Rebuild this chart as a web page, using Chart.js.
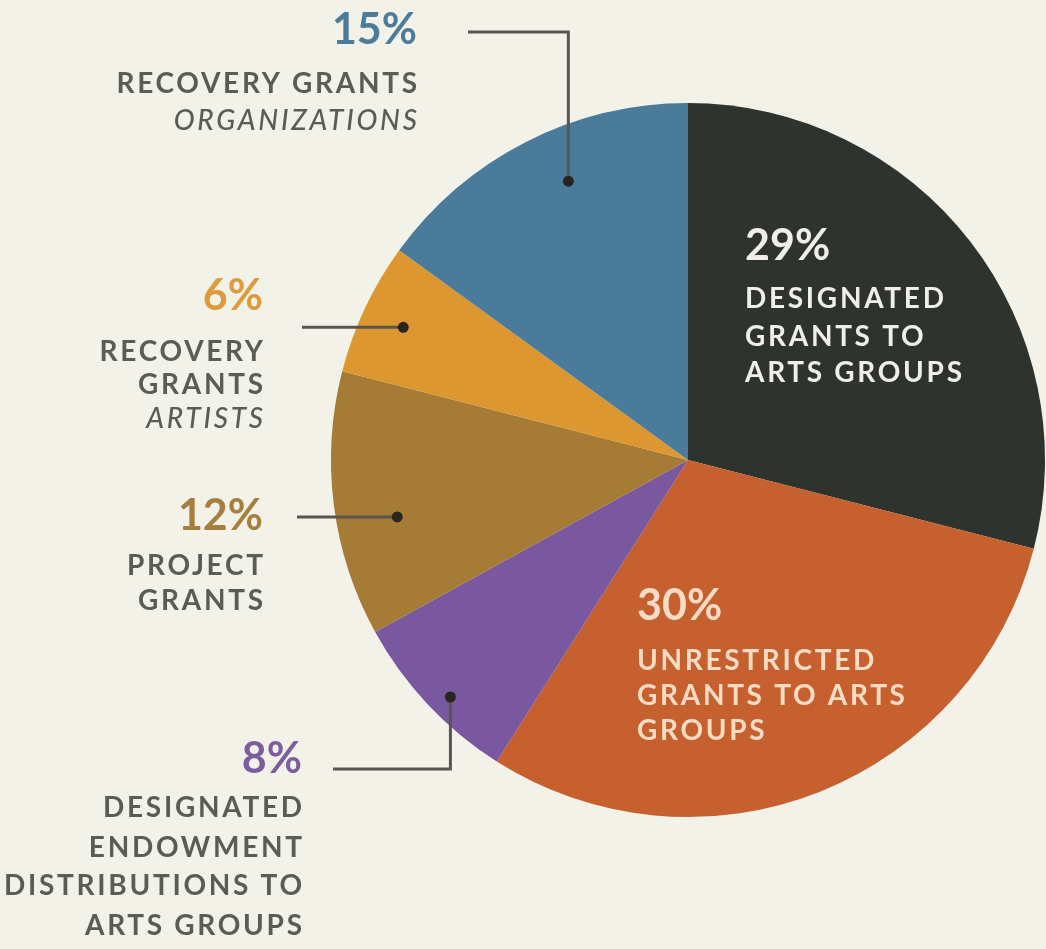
<!DOCTYPE html>
<html>
<head>
<meta charset="utf-8">
<script src="https://cdn.jsdelivr.net/npm/chart.js@4.4.0/dist/chart.umd.min.js"></script>
<style>
  html, body { margin: 0; padding: 0; background: #f3f2e9; }
  #wrap { width: 1046px; height: 949px; position: relative; }
</style>
</head>
<body>
<div id="wrap"><canvas id="pie" width="1046" height="949"></canvas></div>
<script>
// slice data, clockwise from 12 o'clock
const categories = [
  "Designated grants to arts groups",
  "Unrestricted grants to arts groups",
  "Designated endowment distributions to arts groups",
  "Project grants",
  "Recovery grants (artists)",
  "Recovery grants (organizations)"
];
const shares = [29, 30, 8, 12, 6, 15];
const sliceColors = ["#2f332e", "#c6602f", "#7a58a0", "#a57b35", "#dc9730", "#4a7b9a"];
const pctColors = ["#efeee8", "#f8dcc6", "#7b5ea0", "#a67f3e", "#dd9b3c", "#4b7d9b"];

// label text per slice (lines, italic flag with '*')
const labelLines = [
  ["DESIGNATED", "GRANTS TO", "ARTS GROUPS"],
  ["UNRESTRICTED", "GRANTS TO ARTS", "GROUPS"],
  ["DESIGNATED", "ENDOWMENT", "DISTRIBUTIONS TO", "ARTS GROUPS"],
  ["PROJECT", "GRANTS"],
  ["RECOVERY", "GRANTS", "*ARTISTS"],
  ["RECOVERY GRANTS", "*ORGANIZATIONS"]
];

// layout of the annotation text (not data)
const layout = [
  { x: 745, align: "left", pctY: 260, ys: [308, 346, 382], color: "#efeee8" },
  { x: 637, align: "left", pctY: 620, ys: [670, 705, 740], color: "#f8dcc6" },
  { x: 302, align: "right", pctY: 773, ys: [817, 857, 895, 935], color: "#5c5c57",
    leader: { t: 0.44, rf: 0.94, elbowY: 769, fromX: 333 } },
  { x: 263, align: "right", pctY: 530, ys: [575, 610], color: "#5c5c57",
    leader: { t: 0.41, rf: 0.83, fromX: 297 } },
  { x: 263, align: "right", pctY: 310, ys: [361, 394, 428], color: "#5c5c57",
    leader: { t: 0.49, rf: 0.88, fromX: 302 } },
  { x: 417, align: "right", pctY: 44, ys: [93, 130], color: "#5c5c57",
    leader: { t: 0.57, rf: 0.85, elbowY: 32, fromX: 468 } }
];

const SPACING = 2.7;

const labelsPlugin = {
  id: "labels",
  afterDraw(chart) {
    const ctx = chart.ctx;
    const meta = chart.getDatasetMeta(0);
    ctx.save();
    meta.data.forEach((arc, i) => {
      const L = layout[i];
      const p = arc.getProps(["x", "y", "startAngle", "endAngle", "outerRadius"], true);
      // leader line + dot
      if (L.leader) {
        const a = p.startAngle + (p.endAngle - p.startAngle) * L.leader.t;
        const r = p.outerRadius * L.leader.rf;
        const dx = p.x + Math.cos(a) * r;
        const dy = p.y + Math.sin(a) * r;
        ctx.strokeStyle = "#57574f";
        ctx.lineWidth = 3;
        ctx.beginPath();
        if (L.leader.elbowY !== undefined) {
          ctx.moveTo(L.leader.fromX, L.leader.elbowY);
          ctx.lineTo(dx, L.leader.elbowY);
          ctx.lineTo(dx, dy);
        } else {
          ctx.moveTo(L.leader.fromX, dy);
          ctx.lineTo(dx, dy);
        }
        ctx.stroke();
        ctx.fillStyle = "#26261f";
        ctx.beginPath();
        ctx.arc(dx, dy, 5.5, 0, Math.PI * 2);
        ctx.fill();
      }
      // percentage
      ctx.textAlign = L.align;
      ctx.textBaseline = "alphabetic";
      ctx.letterSpacing = "0px";
      ctx.fillStyle = pctColors[i];
      ctx.font = "bold 43px Lato";
      ctx.fillText(shares[i] + "%", L.x, L.pctY);
      // description lines
      ctx.fillStyle = L.color;
      ctx.letterSpacing = SPACING + "px";
      labelLines[i].forEach((line, j) => {
        let txt = line;
        if (line.startsWith("*")) {
          txt = line.slice(1);
          ctx.font = "italic 500 28px Lato";
        } else {
          ctx.font = "bold 28px Lato";
        }
        const off = L.align === "right" ? SPACING : 0;
        ctx.fillText(txt, L.x + off, L.ys[j]);
      });
    });
    ctx.restore();
  }
};

new Chart(document.getElementById("pie"), {
  type: "pie",
  data: {
    labels: categories,
    datasets: [{
      data: shares,
      backgroundColor: sliceColors,
      borderWidth: 0
    }]
  },
  options: {
    responsive: false,
    animation: false,
    rotation: 0,
    layout: { padding: { left: 331, right: 1, top: 103, bottom: 132 } },
    plugins: {
      legend: { display: false },
      tooltip: { enabled: false }
    }
  },
  plugins: [labelsPlugin]
});
</script>
</body>
</html>
